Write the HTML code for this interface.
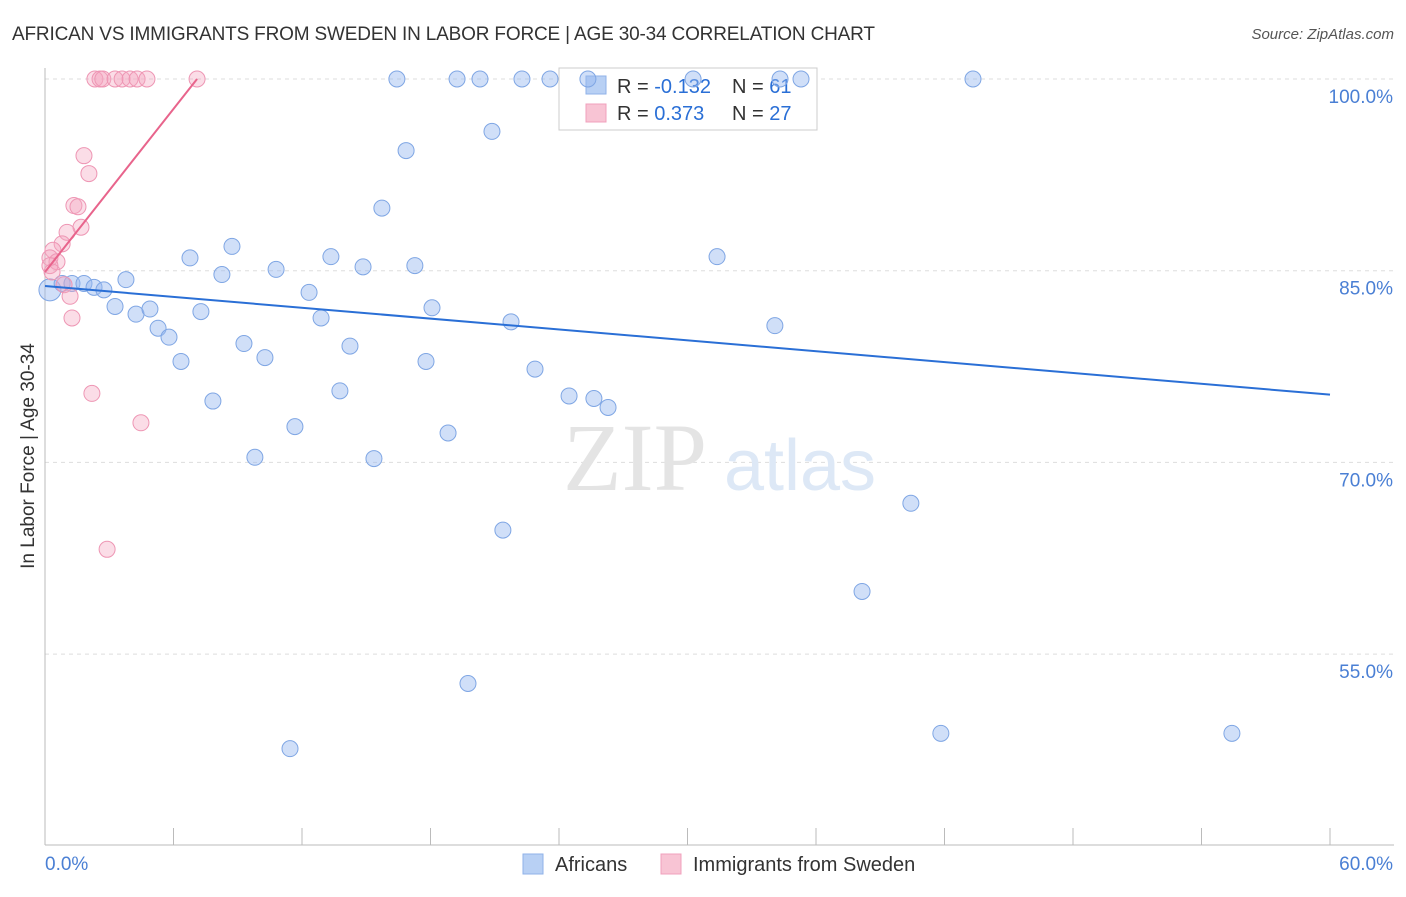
<!DOCTYPE html>
<html><head><meta charset="utf-8">
<style>
body{margin:0;background:#fff;font-family:"Liberation Sans",sans-serif;}
svg text{font-family:"Liberation Sans",sans-serif;}
</style></head>
<body>
<svg width="1406" height="892" xmlns="http://www.w3.org/2000/svg">
<text x="12" y="40" font-size="19" fill="#333" textLength="863">AFRICAN VS IMMIGRANTS FROM SWEDEN IN LABOR FORCE | AGE 30-34 CORRELATION CHART</text>
<text x="1394" y="39" font-size="15" fill="#555" text-anchor="end" font-style="italic">Source: ZipAtlas.com</text>
<g id="grid"></g>
<text x="635" y="490" font-size="96" fill="#e4e4e4" text-anchor="middle" style="font-family:'Liberation Serif',serif">ZIP</text>
<text x="800" y="490" font-size="72" fill="#dde8f6" text-anchor="middle">atlas</text>
<g id="axes"></g>
<text transform="translate(34,456) rotate(-90)" font-size="19" fill="#333" text-anchor="middle">In Labor Force | Age 30-34</text>
<g>
<rect x="559" y="68" width="258" height="62" fill="#fff" stroke="#ccc"/>
<rect x="586" y="76" width="20" height="18" fill="#b8d0f4" stroke="#8fb2e8"/>
<rect x="586" y="104" width="20" height="18" fill="#f8c4d4" stroke="#f0a0bc"/>
<text x="617" y="93" font-size="20" fill="#333">R = <tspan fill="#2a6fd6">-0.132</tspan></text>
<text x="732" y="93" font-size="20" fill="#333">N = <tspan fill="#2a6fd6">61</tspan></text>
<text x="617" y="120" font-size="20" fill="#333">R = <tspan fill="#2a6fd6"> 0.373</tspan></text>
<text x="732" y="120" font-size="20" fill="#333">N = <tspan fill="#2a6fd6">27</tspan></text>
</g>
<g id="pts"></g>
<g>
<rect x="523" y="854" width="20" height="20" fill="#b8d0f4" stroke="#8fb2e8"/>
<text x="555" y="871" font-size="20" fill="#333">Africans</text>
<rect x="661" y="854" width="20" height="20" fill="#f8c4d4" stroke="#f0a0bc"/>
<text x="693" y="871" font-size="20" fill="#333">Immigrants from Sweden</text>
</g>
</svg>
<script>
const yTicks=[100,85,70,55];
const blueX=[0.23,0.8,1.26,1.82,2.29,2.75,3.27,3.78,4.25,4.9,5.28,5.79,6.35,6.77,7.28,7.84,8.26,8.73,9.29,9.8,10.27,10.79,11.44,11.67,12.33,12.89,13.35,13.77,14.24,14.85,15.36,15.73,16.43,16.86,17.27,17.79,18.07,18.82,19.24,19.75,20.31,20.87,21.38,21.76,22.27,22.88,23.58,24.47,25.35,25.63,26.29,30.26,31.38,34.08,34.32,35.3,38.15,40.43,41.83,43.33,55.42];
const blueY=[83.5,84,84,84,83.7,83.5,82.2,84.3,81.6,82,80.5,79.8,77.9,86,81.8,74.8,84.7,86.9,79.3,70.4,78.2,85.1,47.6,72.8,83.3,81.3,86.1,75.6,79.1,85.3,70.3,89.9,100,94.4,85.4,77.9,82.1,72.3,100,52.7,100,95.9,64.7,81,100,77.3,100,75.2,100,75,74.3,100,86.1,80.7,100,100,59.9,66.8,48.8,100,48.8];
const pinkX=[2.33,2.57,2.7,3.27,3.6,3.97,4.3,4.76,7.1,1.82,2.05,1.35,1.54,1.68,1.03,0.8,0.37,0.23,0.56,0.23,0.33,0.89,1.17,1.26,2.19,4.48,2.9];
const pinkY=[100,100,100,100,100,100,100,100,100,94,92.6,90.1,90,88.4,88,87.1,86.6,86,85.7,85.4,84.9,83.9,83,81.3,75.4,73.1,63.2];
const blueTrend=[[0,83.8],[60,75.3]];
const pinkTrend=[[0,84.9],[7.1,100]];
const NS="http://www.w3.org/2000/svg";
const X=v=>45+v/60*1285, Y=v=>79+(100-v)/15*191.7;
function mk(t,a,p){const e=document.createElementNS(NS,t);for(const k in a)e.setAttribute(k,a[k]);p.appendChild(e);return e;}
const grid=document.getElementById('grid'),axes=document.getElementById('axes'),pts=document.getElementById('pts');
yTicks.forEach(t=>{const l=mk('line',{x1:45,x2:1394,y1:Y(t),y2:Y(t),stroke:'#ddd','stroke-dasharray':'4,4'},grid);


const tx=mk('text',{x:1393,y:Y(t)+24,'font-size':19,fill:'#4a7fd4','text-anchor':'end'},axes);tx.textContent=t.toFixed(1)+'%';

});
mk('line',{x1:45,x2:45,y1:68,y2:845,stroke:'#bbb'},axes);
mk('line',{x1:45,x2:1394,y1:845,y2:845,stroke:'#bbb'},axes);
for(let i=0;i<=10;i++){const l=mk('line',{x1:X(i*6),x2:X(i*6),y1:828,y2:845,stroke:'#bbb'},axes);

}
const xl=mk('text',{x:45,y:870,'font-size':19,fill:'#4a7fd4'},axes);xl.textContent='0.0%';


const xr=mk('text',{x:1393,y:870,'font-size':19,fill:'#4a7fd4','text-anchor':'end'},axes);xr.textContent='60.0%';


blueX.forEach((x,i)=>{const c=mk('circle',{cx:X(x),cy:Y(blueY[i]),r:i==0?11:8,fill:'rgba(150,185,240,0.45)',stroke:'#7fa6e4','stroke-width':1},pts);

});
pinkX.forEach((x,i)=>{const c=mk('circle',{cx:X(x),cy:Y(pinkY[i]),r:8,fill:'rgba(245,165,192,0.38)',stroke:'#ee96b4','stroke-width':1},pts);

});
const bt=mk('line',{x1:X(blueTrend[0][0]),y1:Y(blueTrend[0][1]),x2:X(blueTrend[1][0]),y2:Y(blueTrend[1][1]),stroke:'#2a6fd6','stroke-width':2},pts);


const pt=mk('line',{x1:X(pinkTrend[0][0]),y1:Y(pinkTrend[0][1]),x2:X(pinkTrend[1][0]),y2:Y(pinkTrend[1][1]),stroke:'#e8648c','stroke-width':2},pts);


</script>
</body></html>
